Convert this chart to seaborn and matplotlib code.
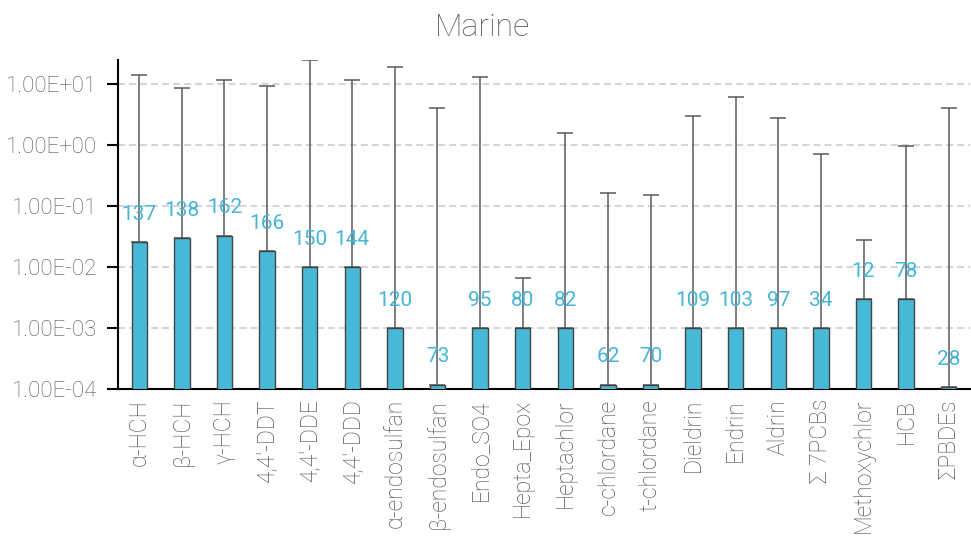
import matplotlib

matplotlib.use("Agg")
import matplotlib.pyplot as plt
import numpy as np
import pandas as pd
import seaborn as sns
from matplotlib.ticker import FuncFormatter, NullLocator

compounds = ["α-HCH", "β-HCH", "γ-HCH", "4,4'-DDT", "4,4'-DDE", "4,4'-DDD",
             "α-endosulfan", "β-endosulfan", "Endo_SO4", "Hepta_Epox", "Heptachlor",
             "c-chlordane", "t-chlordane", "Dieldrin", "Endrin", "Aldrin",
             "Σ 7PCBs", "Methoxychlor", "HCB", "ΣPBDEs"]
means = [0.0257, 0.030, 0.033, 0.0186, 0.01, 0.01,
         0.001, 0.00012, 0.001, 0.001, 0.001,
         0.00012, 0.00012, 0.001, 0.001, 0.001,
         0.001, 0.003, 0.003, 0.000108]
upper = [14.0, 8.7, 11.9, 9.5, 24.5, 11.9,
         19.4, 4.15, 13.0, 0.0066, 1.6,
         0.167, 0.154, 3.03, 6.27, 2.78,
         0.71, 0.0283, 0.97, 4.15]
n_samples = [137, 138, 162, 166, 150, 144, 120, 73, 95, 80, 82,
             62, 70, 109, 103, 97, 34, 12, 78, 28]

sns.set_style("white")
plt.rcParams["font.family"] = ["Roboto", "DejaVu Sans"]
plt.rcParams["font.weight"] = "light"

df = pd.DataFrame({"compound": compounds, "mean": means})

fig = plt.figure(figsize=(9.71, 5.4), dpi=100)
ax = fig.add_axes([0.1215, 0.279, 0.8775, 0.61])
sns.barplot(data=df, x="compound", y="mean", color="#47b8d6", saturation=1,
            width=0.36, edgecolor="#444444", linewidth=1.0, ax=ax, zorder=3)
ax.set_yscale("log")
ax.set_ylim(1e-4, 25)
ax.set_xlim(-0.5, len(compounds) - 0.5)

# upper-only error bars + sample counts above each bar
xs = [p.get_x() + p.get_width() / 2 for p in ax.patches]
m = np.array(means)
ax.errorbar(xs, m, yerr=[np.zeros_like(m), np.array(upper) - m], fmt="none",
            ecolor="#5a5a5a", elinewidth=1.1, capsize=6, capthick=1.1, zorder=2)
for x, y, n in zip(xs, means, n_samples):
    ax.annotate(str(n), (x, y), xytext=(0, 20), textcoords="offset points",
                ha="center", va="center", color="#45b5d8", fontsize=15,
                fontweight="normal")

ax.yaxis.set_major_formatter(FuncFormatter(lambda v, _: f"{v:.2E}"))
ax.yaxis.set_minor_locator(NullLocator())
ax.yaxis.grid(True, color="#d5d5d5", linewidth=1.5, dashes=(3.3, 2))
ax.set_axisbelow(True)

ax.set_xticks(np.arange(-0.5, len(compounds), 1), minor=True)
ax.tick_params(axis="x", which="major", length=0, pad=7, rotation=90,
               labelsize=16.5, labelcolor="#555555")
ax.tick_params(axis="x", which="minor", length=8, width=1.5, color="black",
               direction="out")
ax.tick_params(axis="y", which="major", length=8, width=1.5, color="black",
               direction="out", left=True, pad=7, labelsize=16,
               labelcolor="#555555")
ax.set_xlabel("")
ax.set_ylabel("")

for side in ["top", "right"]:
    ax.spines[side].set_visible(False)
for side in ["left", "bottom"]:
    ax.spines[side].set_color("black")
    ax.spines[side].set_linewidth(1.5)

fig.text(0.497, 1 - 28 / 540, "Marine", ha="center", va="center",
         fontsize=23, color="#555555")

fig.savefig("out.png", dpi=100)
